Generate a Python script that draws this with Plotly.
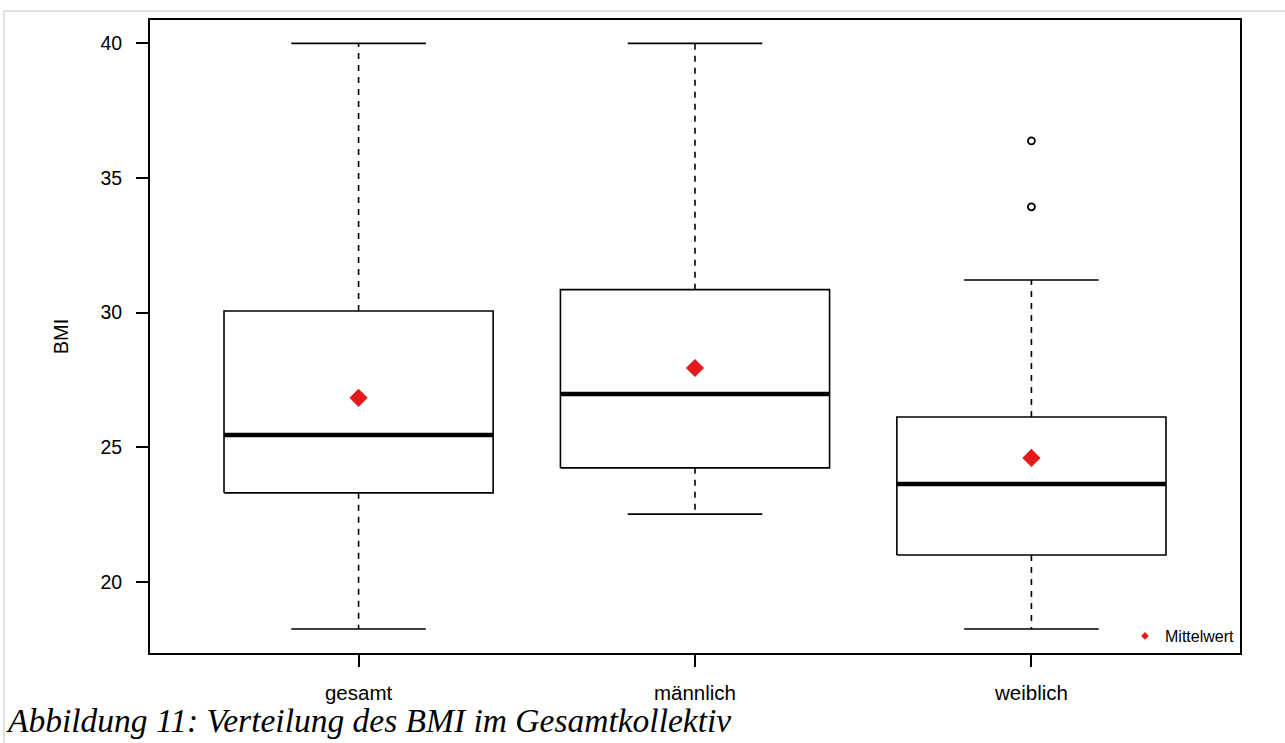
import plotly.graph_objects as go

# ---- data ----
categories = ["gesamt", "männlich", "weiblich"]
q1 = [23.30, 24.23, 20.99]
median = [25.45, 26.97, 23.63]
q3 = [30.06, 30.85, 26.12]
whisker_low = [18.24, 22.51, 18.24]
whisker_high = [40.0, 40.0, 31.21]
means = [26.83, 27.94, 24.60]
outlier_cat = [3, 3]
outlier_val = [36.38, 33.93]
y_ticks = [20, 25, 30, 35, 40]

BOX_HALF = 0.4
CAP_HALF = 0.2

fig = go.Figure()

line_black = dict(color="black", width=1.6)

for i, cat in enumerate(categories):
    xc = i + 1
    # box outline
    fig.add_trace(go.Scatter(
        x=[xc - BOX_HALF, xc + BOX_HALF, xc + BOX_HALF, xc - BOX_HALF, xc - BOX_HALF],
        y=[q1[i], q1[i], q3[i], q3[i], q1[i]],
        mode="lines", line=line_black, showlegend=False, hoverinfo="skip"))
    # whiskers (dashed)
    fig.add_trace(go.Scatter(
        x=[xc, xc, None, xc, xc],
        y=[q3[i], whisker_high[i], None, q1[i], whisker_low[i]],
        mode="lines", line=dict(color="black", width=1.6, dash="6px,6px"),
        showlegend=False, hoverinfo="skip"))
    # caps
    fig.add_trace(go.Scatter(
        x=[xc - CAP_HALF, xc + CAP_HALF, None, xc - CAP_HALF, xc + CAP_HALF],
        y=[whisker_high[i], whisker_high[i], None, whisker_low[i], whisker_low[i]],
        mode="lines", line=line_black, showlegend=False, hoverinfo="skip"))
    # median
    fig.add_trace(go.Scatter(
        x=[xc - BOX_HALF, xc + BOX_HALF],
        y=[median[i], median[i]],
        mode="lines", line=dict(color="black", width=4.5),
        showlegend=False, hoverinfo="skip"))

# outliers
fig.add_trace(go.Scatter(
    x=outlier_cat, y=outlier_val, mode="markers",
    marker=dict(symbol="circle-open", size=7, color="black", line=dict(width=1.8)),
    showlegend=False))

# means
fig.add_trace(go.Scatter(
    x=[1, 2, 3], y=means, mode="markers",
    marker=dict(symbol="diamond", size=14, color="#E31A1C"),
    showlegend=False))

# legend entry
fig.add_trace(go.Scatter(
    x=[None], y=[None], mode="markers", name="Mittelwert",
    marker=dict(symbol="diamond", size=6, color="#E31A1C"),
    showlegend=True))

fig.update_layout(
    width=1285, height=743,
    margin=dict(l=150, r=45, t=20, b=90),
    paper_bgcolor="white", plot_bgcolor="white",
    font=dict(family="Liberation Sans, Arial, sans-serif", color="black", size=20),
    legend=dict(x=1, xanchor="right", y=0, yanchor="bottom",
                bgcolor="rgba(0,0,0,0)", font=dict(size=16),
                itemsizing="trace", itemwidth=30),
    xaxis=dict(range=[0.38, 3.62], tickvals=[1, 2, 3], ticktext=categories,
               showgrid=False, zeroline=False, showline=True, mirror=True,
               linecolor="black", linewidth=2, ticks="outside", ticklen=12,
               tickwidth=2, tickcolor="black", ticklabelstandoff=8,
               tickfont=dict(size=20.5)),
    yaxis=dict(range=[17.35, 40.87], tickvals=y_ticks,
               showgrid=False, zeroline=False, showline=True, mirror=True,
               linecolor="black", linewidth=2, ticks="outside", ticklen=12,
               tickwidth=2, tickcolor="black", ticklabelstandoff=10,
               tickfont=dict(size=19.5),
               title=dict(text="BMI", standoff=26, font=dict(size=20))),
    annotations=[dict(
        text="<i>Abbildung 11: Verteilung des BMI im Gesamtkollektiv</i>",
        xref="paper", yref="paper", x=-0.1339, y=-0.139,
        xanchor="left", yanchor="bottom", showarrow=False,
        font=dict(family="Liberation Serif, Times New Roman, serif", size=33.5))],
    shapes=[dict(type="rect", xref="paper", yref="paper",
                 x0=-0.1339, x1=1.2, y0=-0.3, y1=1.0142,
                 line=dict(color="#e2e2e2", width=2), layer="below")],
)

fig.write_html("out.html", config={"displayModeBar": False},
               post_script="document.body.style.margin='0';")
